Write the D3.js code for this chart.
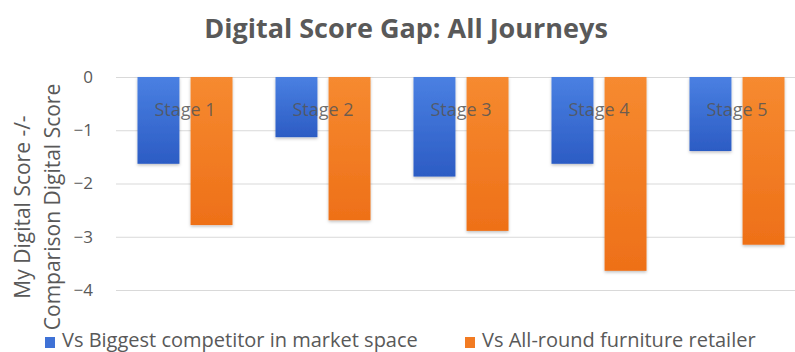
<!DOCTYPE html>
<html>
<head>
<meta charset="utf-8">
<script src="https://cdn.jsdelivr.net/npm/d3@7"></script>
<style>
  body { margin: 0; background: #fff; }
  svg { display: block; font-family: "Open Sans", "Noto Sans", sans-serif; }
</style>
</head>
<body>
<div id="chart-container"></div>
<script>
// data
const stages = ["Stage 1", "Stage 2", "Stage 3", "Stage 4", "Stage 5"];
const seriesNames = ["Vs Biggest competitor in market space", "Vs All-round furniture retailer"];
const competitorGap = [-1.63, -1.13, -1.87, -1.63, -1.39];
const retailerGap = [-2.78, -2.69, -2.89, -3.64, -3.15];
const yTicks = [0, -1, -2, -3, -4];

const colors = ["#3f72d6", "#f27b22"];

const W = 795, H = 352;
const svg = d3.select('#chart-container')
    .append('svg')
    .attr('width', W)
    .attr('height', H);

// gradients to mimic the shaded bars
const defs = svg.append('defs');
const grads = [["#4a80e2", "#2c5cc4"], ["#f68a30", "#ee7018"]];
grads.forEach((g, i) => {
    const lg = defs.append('linearGradient')
        .attr('id', 'g' + i)
        .attr('x1', 0).attr('y1', 0).attr('x2', 0).attr('y2', 1);
    lg.append('stop').attr('offset', '0%').attr('stop-color', g[0]);
    lg.append('stop').attr('offset', '100%').attr('stop-color', g[1]);
});
const f = defs.append('filter').attr('id', 'shadow')
    .attr('x', '-20%').attr('y', '-10%').attr('width', '140%').attr('height', '130%');
f.append('feDropShadow').attr('dx', 0).attr('dy', 1.5).attr('stdDeviation', 1.5)
    .attr('flood-color', '#000').attr('flood-opacity', 0.25);

// scales
const x = d3.scaleBand().domain(stages).range([116, 806]).paddingInner(0).paddingOuter(0);
const y = d3.scaleLinear().domain([0, -4]).range([77, 290]);
const xs = d3.scaleBand().domain([0, 1]).range([21.5, 138 - 21.5]).paddingInner(0.21);

// title
svg.append('text')
    .attr('x', 406).attr('y', 38)
    .attr('text-anchor', 'middle')
    .attr('font-size', 27).attr('font-weight', 'bold')
    .attr('fill', '#595959')
    .text('Digital Score Gap: All Journeys');

// gridlines + y labels
const yAxis = svg.append('g')
    .attr('transform', 'translate(116,0)')
    .call(d3.axisLeft(y).tickValues(yTicks).tickSize(-690).tickPadding(23).tickFormat(d3.format('d')));
yAxis.select('.domain').remove();
yAxis.selectAll('.tick line').attr('stroke', '#d9d9d9');
yAxis.selectAll('.tick text')
    .attr('font-size', 17).attr('fill', '#595959')
    .attr('font-family', '"Open Sans", sans-serif');

// bars
const rows = stages.map((s, i) => ({ stage: s, values: [competitorGap[i], retailerGap[i]] }));
const groups = svg.append('g').selectAll('g')
    .data(rows).enter().append('g')
    .attr('transform', d => `translate(${x(d.stage)},0)`);
groups.selectAll('rect')
    .data(d => d.values.map((v, k) => ({ v, k })))
    .enter().append('rect')
    .attr('x', d => xs(d.k))
    .attr('width', xs.bandwidth())
    .attr('y', y(0))
    .attr('height', d => y(d.v) - y(0))
    .attr('fill', d => `url(#g${d.k})`)
    .attr('filter', 'url(#shadow)');

// category labels drawn near the top, over the bars
const xAxis = svg.append('g')
    .attr('transform', `translate(0,${y(0)})`)
    .call(d3.axisBottom(x).tickSize(0));
xAxis.select('.domain').remove();
xAxis.selectAll('.tick text')
    .attr('y', 39).attr('dy', null)
    .attr('font-size', 18).attr('fill', '#555').attr('fill-opacity', 0.85)
    .attr('font-family', '"Open Sans", sans-serif');

// y axis title, two lines
const yTitle = svg.append('text')
    .attr('transform', 'translate(0,207) rotate(-90)')
    .attr('text-anchor', 'middle')
    .attr('font-size', 21).attr('fill', '#595959');
yTitle.append('tspan').attr('x', 0).attr('y', 30).text('My Digital Score -/-');
yTitle.append('tspan').attr('x', 0).attr('y', 60).text('Comparison Digital Score');

// legend
const legendX = [45, 465];
const legend = svg.append('g').selectAll('g')
    .data(seriesNames).enter().append('g')
    .attr('transform', (d, i) => `translate(${legendX[i]},337)`);
legend.append('rect')
    .attr('width', 10).attr('height', 11)
    .attr('fill', (d, i) => colors[i]);
legend.append('text')
    .attr('x', 17).attr('y', 10)
    .attr('font-size', 20).attr('fill', '#595959')
    .text(d => d);
</script>
</body>
</html>
